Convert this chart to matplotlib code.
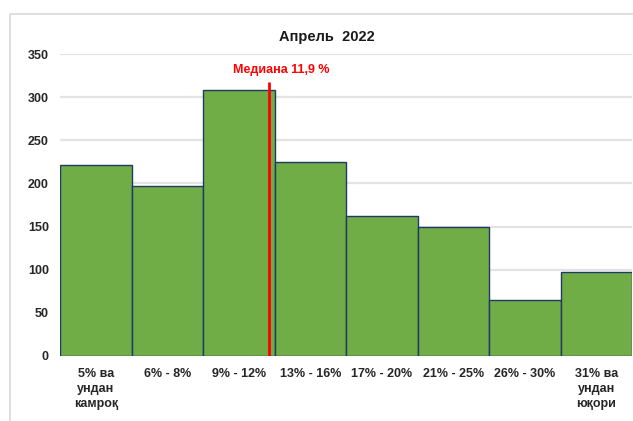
import numpy as np
import matplotlib.pyplot as plt
from matplotlib.patches import Rectangle

# data
categories = ['5% ва\nундан\nкамроқ', '6% - 8%', '9% - 12%', '13% - 16%',
              '17% - 20%', '21% - 25%', '26% - 30%', '31% ва\nундан\nюқори']
counts = [221, 197, 308, 225, 162, 150, 65, 97]
median_label = 'Медиана 11,9 %'
median_pos = 2.43   # position on category axis (inside 9% - 12%)
yticks = [0, 50, 100, 150, 200, 250, 300, 350]

plt.rcParams['font.family'] = ['Liberation Sans', 'DejaVu Sans']

fig = plt.figure(figsize=(6.33, 4.21), dpi=100)
ax = fig.add_axes([60 / 633, 1 - 355.7 / 421, 572 / 633, 301.4 / 421])

# chart frame
fig.patches.append(Rectangle((10 / 633, -0.1), 1.2, 1 - 14 / 421 + 0.1,
                             transform=fig.transFigure, fill=False,
                             edgecolor='#D9D9D9', linewidth=1.2, zorder=0))

x = np.arange(len(categories))
ax.bar(x, counts, width=1.0, color='#70AD47', edgecolor='#203864',
       linewidth=1.0, zorder=2)

ax.set_xlim(-0.5, len(categories) - 0.5)
ax.set_ylim(0, 350)
ax.set_yticks(yticks)
ax.yaxis.grid(True, color='#E3E3E3', linewidth=1.6, zorder=0)
ax.set_axisbelow(True)
for s in ax.spines.values():
    s.set_visible(False)

ax.set_xticks(x)
ax.set_xticklabels(categories, fontsize=9, fontweight='bold', color='#262626',
                   linespacing=1.35)
ax.tick_params(axis='x', length=0, pad=9)
ax.tick_params(axis='y', length=0, pad=8, labelsize=9, labelcolor='#262626')
for lbl in ax.get_yticklabels():
    lbl.set_fontweight('bold')

# median line
ax.plot([median_pos, median_pos], [0, 318], color='#FF0000', linewidth=2.0,
        zorder=3, solid_capstyle='butt')
ax.text(median_pos + 0.17, 332, median_label, color='#FF0000', fontsize=9,
        fontweight='bold', ha='center', va='center')

fig.text(327 / 633, 1 - 37 / 421, 'Апрель  2022', fontsize=10.5,
         fontweight='bold', color='#1A1A1A', ha='center', va='center')

fig.savefig('out.png', dpi=100)
